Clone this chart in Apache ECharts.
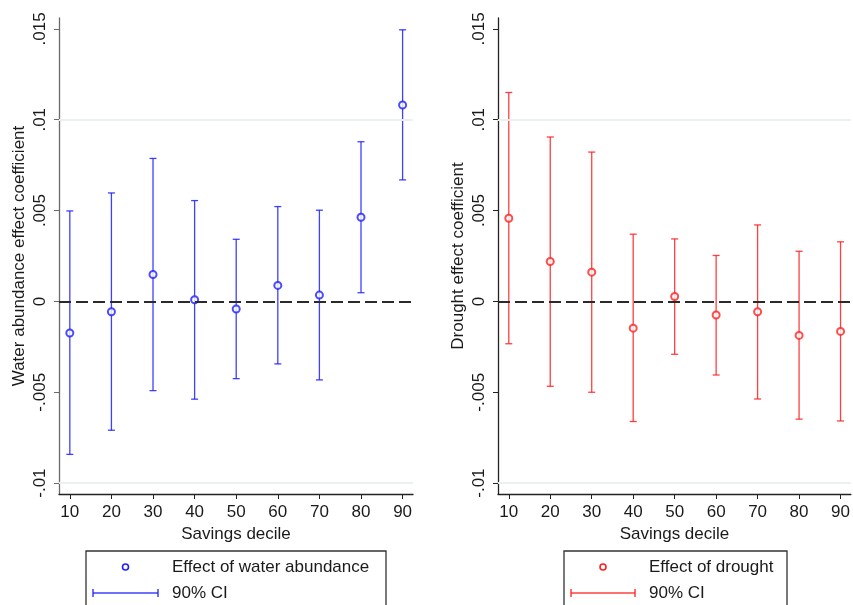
<!DOCTYPE html>
<html>
<head>
<meta charset="utf-8">
<script src="https://cdn.jsdelivr.net/npm/echarts@6/dist/echarts.min.js"></script>
<style>
  html, body { margin: 0; padding: 0; background: #fff; }
  #chart { width: 853px; height: 605px; }
</style>
</head>
<body>
<div id="chart"></div>
<script>
// savings deciles on the x axis
const deciles = [10, 20, 30, 40, 50, 60, 70, 80, 90];
// water abundance: point estimate and 90% CI bounds
const waterCoef = [-0.00174, -0.00057, 0.00148, 0.00009, -0.00042, 0.00088, 0.00035, 0.00463, 0.01081];
const waterLow  = [-0.00842, -0.00709, -0.00491, -0.00538, -0.00425, -0.00344, -0.00432, 0.00048, 0.00669];
const waterHigh = [0.00498, 0.00597, 0.00787, 0.00555, 0.00342, 0.00522, 0.00502, 0.00879, 0.01495];
// drought: point estimate and 90% CI bounds
const droughtCoef = [0.00458, 0.0022, 0.00161, -0.00147, 0.00027, -0.00075, -0.00057, -0.00187, -0.00165];
const droughtLow  = [-0.00233, -0.00467, -0.005, -0.00661, -0.00291, -0.00405, -0.00537, -0.00648, -0.00658];
const droughtHigh = [0.0115, 0.00905, 0.00822, 0.0037, 0.00344, 0.00253, 0.00421, 0.00276, 0.00328];
// tick labels
const yTicks = [-0.01, -0.005, 0, 0.005, 0.01, 0.015];
const xTicks = [10, 20, 30, 40, 50, 60, 70, 80, 90];

const BLUE = '#1f1fff';
const RED = '#ff1f1f';
const FONT = 'Liberation Sans, Arial, sans-serif';
const FS = 17;

var myChart = echarts.init(document.getElementById('chart'));

function fmtY(v) {
  if (v === 0) return '0';
  return (v < 0 ? '-' : '') + String(Math.abs(v)).replace(/^0/, '');
}

function makeX(idx) {
  return {
    type: 'value', gridIndex: idx, min: 7.4, max: 92.5,
    name: 'Savings decile', nameLocation: 'middle', nameGap: 29,
    nameTextStyle: { fontSize: FS, color: '#1a1a1a', fontFamily: FONT },
    axisLine: { onZero: false, lineStyle: { color: '#222', width: 1.3 } },
    axisTick: { customValues: xTicks, length: 5, lineStyle: { color: '#222' } },
    axisLabel: { customValues: xTicks, fontSize: FS, color: '#1a1a1a', fontFamily: FONT, margin: 10 },
    splitLine: { show: false }
  };
}

function makeY(idx, title, axisColor) {
  return {
    type: 'value', gridIndex: idx, min: -0.0106, max: 0.0156,
    name: title, nameLocation: 'middle', nameGap: 31,
    nameTextStyle: { fontSize: FS, color: '#1a1a1a', fontFamily: FONT },
    axisLine: { show: true, onZero: false, lineStyle: { color: axisColor, width: 1.3 } },
    axisTick: { show: true, customValues: yTicks, length: 5, lineStyle: { color: axisColor } },
    axisLabel: {
      customValues: yTicks, rotate: 90, fontSize: FS, color: '#1a1a1a',
      fontFamily: FONT, margin: 10, formatter: fmtY
    },
    splitLine: { show: false }
  };
}

// gridlines and the dashed zero line
function refLines() {
  const data = yTicks.filter(v => v !== 0).map(v => ({
    yAxis: v, lineStyle: { color: '#eaf0f0', width: 1.5, type: 'solid' }
  }));
  data.push({ yAxis: 0, lineStyle: { color: '#2a2a2a', width: 1.8, type: [12, 5] } });
  return { silent: true, symbol: 'none', label: { show: false }, data: data, animation: false };
}

function errorSeries(idx, lo, hi, color) {
  return {
    type: 'custom', xAxisIndex: idx, yAxisIndex: idx, z: 3,
    data: deciles.map((d, i) => [d, lo[i], hi[i]]),
    renderItem: function (params, api) {
      const pLo = api.coord([api.value(0), api.value(1)]);
      const pHi = api.coord([api.value(0), api.value(2)]);
      const hw = 3.5;
      const st = { stroke: color, lineWidth: 1.3, opacity: 0.85 };
      return {
        type: 'group',
        children: [
          { type: 'line', shape: { x1: pLo[0], y1: pLo[1], x2: pHi[0], y2: pHi[1] }, style: st },
          { type: 'line', shape: { x1: pHi[0] - hw, y1: pHi[1], x2: pHi[0] + hw, y2: pHi[1] }, style: st },
          { type: 'line', shape: { x1: pLo[0] - hw, y1: pLo[1], x2: pLo[0] + hw, y2: pLo[1] }, style: st }
        ]
      };
    }
  };
}

function pointSeries(idx, vals, color) {
  return {
    type: 'scatter', xAxisIndex: idx, yAxisIndex: idx, z: 4,
    symbol: 'emptyCircle', symbolSize: 7,
    itemStyle: { color: color, borderWidth: 1.6 },
    data: deciles.map((d, i) => [d, vals[i]]),
    markLine: refLines()
  };
}

// legend boxes drawn by hand, Stata style
function legendBox(left, width, circleX, lineX1, lineX2, textX, label, color) {
  return [
    { type: 'rect', shape: { x: left, y: 551, width: width, height: 70 },
      style: { fill: '#fff', stroke: '#333', lineWidth: 1.3 } },
    { type: 'circle', shape: { cx: circleX, cy: 567, r: 3 },
      style: { fill: '#fff', stroke: color, lineWidth: 1.6 } },
    { type: 'text', x: textX, y: 567,
      style: { text: label, fill: '#1a1a1a', font: FS + 'px ' + FONT, textVerticalAlign: 'middle' } },
    { type: 'line', shape: { x1: lineX1, y1: 593, x2: lineX2, y2: 593 },
      style: { stroke: color, lineWidth: 1.3, opacity: 0.85 } },
    { type: 'line', shape: { x1: lineX1, y1: 589, x2: lineX1, y2: 597 },
      style: { stroke: color, lineWidth: 1.3 } },
    { type: 'line', shape: { x1: lineX2, y1: 589, x2: lineX2, y2: 597 },
      style: { stroke: color, lineWidth: 1.3 } },
    { type: 'text', x: textX, y: 593,
      style: { text: '90% CI', fill: '#1a1a1a', font: FS + 'px ' + FONT, textVerticalAlign: 'middle' } }
  ];
}

let option = {
  animation: false,
  backgroundColor: '#fff',
  grid: [
    { left: 59, top: 18, width: 354, height: 476 },
    { left: 498, top: 18, width: 354, height: 476 }
  ],
  xAxis: [makeX(0), makeX(1)],
  yAxis: [
    makeY(0, 'Water abundance effect coefficient', '#6a6a6a'),
    makeY(1, 'Drought effect coefficient', '#222')
  ],
  series: [
    errorSeries(0, waterLow, waterHigh, BLUE),
    pointSeries(0, waterCoef, BLUE),
    errorSeries(1, droughtLow, droughtHigh, RED),
    pointSeries(1, droughtCoef, RED)
  ],
  graphic: legendBox(86, 300, 125.5, 93, 158, 172, 'Effect of water abundance', BLUE)
    .concat(legendBox(564, 223, 603, 571, 635, 649, 'Effect of drought', RED))
};

option && myChart.setOption(option);
</script>
</body>
</html>
